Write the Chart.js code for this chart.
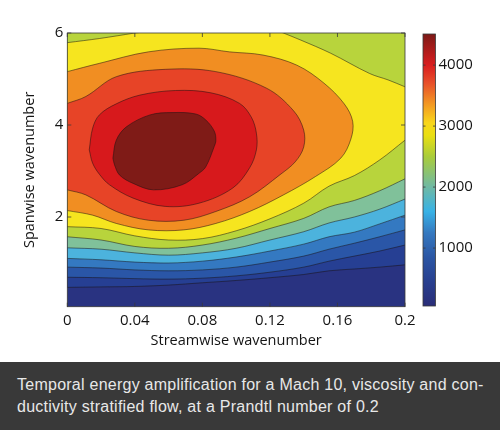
<!DOCTYPE html>
<html>
<head>
<meta charset="utf-8">
<script src="https://cdn.jsdelivr.net/npm/chart.js@4.4.1/dist/chart.umd.min.js"></script>
<style>
  html, body { margin: 0; padding: 0; background: #fff; }
  #wrap { position: relative; width: 500px; height: 430px; overflow: hidden; background: #fff; }
  #plot, #cbar { position: absolute; left: 0; top: 0; }
  #caption {
    position: absolute; left: 0; top: 362px; width: 500px; height: 68px;
    box-sizing: border-box; padding: 12px 0 0 17px;
    background: #393939; color: #e8e8e8;
    font-family: "Liberation Sans", Arial, sans-serif; font-size: 16px; line-height: 22px;
    letter-spacing: 0.25px; white-space: nowrap;
  }
</style>
</head>
<body>
<div id="wrap">
  <canvas id="plot" width="500" height="362"></canvas>
  <canvas id="cbar" width="500" height="362"></canvas>
  <div id="caption">Temporal energy amplification for a Mach 10, viscosity and con-<br>ductivity stratified flow, at a Prandtl number of 0.2</div>
</div>
<script>
// axes
const kxTicks = [0, 0.04, 0.08, 0.12, 0.16, 0.2];
const kzTicks = [2, 4, 6];
const kxRange = [0, 0.2];
const kzRange = [0.05, 6];

// contour levels and the fill colour of each band (band 0 is below the first level)
const levels = [400, 800, 1200, 1600, 2000, 2400, 2800, 3200, 3600, 4000, 4400];
const bandColors = ['#293381', '#263f93', '#2a56a7', '#3479c1', '#4cb3dd', '#80c19a',
                    '#b8d43c', '#f6e51f', '#f18e22', '#e74427', '#d7191c', '#7f1b17'];

// lower contours, read along the streamwise wavenumber
const kxLow  = [0, 0.02, 0.04, 0.06, 0.08, 0.1, 0.12, 0.14, 0.155, 0.17, 0.185, 0.2];
const kz400  = [0.47, 0.48, 0.49, 0.52, 0.57, 0.62, 0.68, 0.75, 0.83, 0.87, 0.91, 0.96];
const kz800  = [0.69, 0.68, 0.66, 0.65, 0.67, 0.72, 0.80, 0.91, 1.04, 1.15, 1.26, 1.39];
const kz1200 = [0.91, 0.89, 0.85, 0.83, 0.85, 0.91, 1.02, 1.15, 1.30, 1.43, 1.57, 1.72];
const kz1600 = [1.10, 1.07, 1.02, 1.00, 1.04, 1.13, 1.26, 1.41, 1.57, 1.67, 1.85, 2.04];
const kz2000 = [1.33, 1.30, 1.22, 1.17, 1.22, 1.32, 1.50, 1.68, 1.87, 2.00, 2.17, 2.39];
const kz2400 = [1.57, 1.50, 1.36, 1.32, 1.39, 1.54, 1.75, 1.97, 2.22, 2.36, 2.57, 2.83];
const kz2800 = [1.79, 1.75, 1.59, 1.50, 1.53, 1.70, 1.96, 2.30, 2.67, 2.90, 3.24, 3.67];

// 2800 contour, upper right piece (right edge to top edge) and top left corner
const kx2800r = [0.2, 0.19, 0.179, 0.156, 0.138, 0.128];
const kz2800r = [4.83, 4.98, 5.12, 5.56, 5.85, 6.0];
const kx2800l = [0.04, 0.019, 0];
const kz2800l = [6.0, 5.88, 5.79];

// 3200 and 3600 contours, from the left edge (low side) round to the left edge (high side)
const kx3200 = [0, 0.015, 0.029, 0.048, 0.069, 0.088, 0.108, 0.128, 0.147, 0.162, 0.168, 0.169,
                0.164, 0.152, 0.136, 0.116, 0.096, 0.078, 0.048, 0.019, 0];
const kz3200 = [2.14, 2.04, 1.86, 1.72, 1.72, 1.86, 2.12, 2.48, 2.88, 3.28, 3.70, 4.08,
                4.46, 4.91, 5.30, 5.52, 5.59, 5.67, 5.59, 5.34, 5.16];
const kx3600 = [0, 0.011, 0.029, 0.048, 0.069, 0.088, 0.108, 0.126, 0.135, 0.140, 0.140, 0.134,
                0.118, 0.088, 0.058, 0.029, 0.011, 0];
const kz3600 = [2.59, 2.48, 2.12, 1.93, 1.93, 2.12, 2.44, 2.92, 3.20, 3.52, 3.89, 4.31,
                4.80, 5.16, 5.21, 5.05, 4.62, 4.47];

// closed contours round the peak
const kx4000 = [0.013, 0.015, 0.019, 0.029, 0.043, 0.064, 0.085, 0.102, 0.109, 0.112, 0.112, 0.108,
                0.098, 0.078, 0.058, 0.039, 0.025, 0.019, 0.015, 0.013];
const kz4000 = [3.46, 3.93, 4.22, 4.46, 4.65, 4.75, 4.70, 4.47, 4.17, 3.82, 3.46, 3.07,
                2.63, 2.30, 2.23, 2.41, 2.70, 2.93, 3.17, 3.46];
const kx4400 = [0.027, 0.029, 0.035, 0.049, 0.062, 0.076, 0.082, 0.087, 0.088, 0.087, 0.082, 0.078,
                0.068, 0.051, 0.039, 0.031, 0.028, 0.027];
const kz4400 = [3.28, 3.67, 3.96, 4.22, 4.27, 4.24, 4.11, 3.87, 3.67, 3.53, 3.09, 2.95,
                2.70, 2.59, 2.73, 2.91, 3.13, 3.28];

// colour bar
const cbarRange = [50, 4510];
const cbarTicks = [1000, 2000, 3000, 4000];
const cbarStops = [50, 450, 850, 1250, 1600, 2000, 2500, 2850, 3050, 3350, 3700, 4000, 4510];
const cbarColors = ['#2a2d78', '#283f8f', '#2b56a4', '#3579c0', '#38b2e6', '#6fb9a4', '#a9cc3a',
                    '#eadf12', '#f8d61a', '#f39a22', '#e8502a', '#d91d1f', '#7c1a17'];

const textColor = '#141414';
const tickFont = { family: "'Open Sans', sans-serif", size: 15 };
const titleFont = { family: "'Open Sans', sans-serif", size: 14.5 };
const lineColor = 'rgba(25, 18, 18, 0.85)';

// off-plot positions used only to close the filled shapes (clipped away)
const OUT_L = kxRange[0] - 0.04;
const OUT_R = kxRange[1] + 0.04;
const OUT_T = kzRange[1] + 0.8;

function toPoints(xs, ys) {
    return xs.map((x, i) => ({ x: x, y: ys[i] }));
}

// push both ends of a contour piece a little past the plot edge
function extended(xs, ys) {
    const p = toPoints(xs, ys);
    const n = p.length;
    const head = { x: p[0].x + (p[0].x - p[1].x) * 0.5, y: p[0].y + (p[0].y - p[1].y) * 0.5 };
    const tail = { x: p[n - 1].x + (p[n - 1].x - p[n - 2].x) * 0.5, y: p[n - 1].y + (p[n - 1].y - p[n - 2].y) * 0.5 };
    return [head].concat(p, [tail]);
}

function regionAbove(xs, ys) {
    return extended(xs, ys).concat([{ x: OUT_R, y: OUT_T }, { x: OUT_L, y: OUT_T }]);
}

function regionFromLeft(xs, ys) {
    const mid = (ys[0] + ys[ys.length - 1]) / 2;
    return extended(xs, ys).concat([{ x: OUT_L, y: mid }]);
}

const last = a => a[a.length - 1];

const region2800 = [].concat(
    extended(kxLow, kz2800),
    [{ x: OUT_R, y: (last(kz2800) + kz2800r[0]) / 2 }],
    extended(kx2800r, kz2800r),
    [{ x: (last(kx2800r) + kx2800l[0]) / 2, y: OUT_T }],
    extended(kx2800l, kz2800l),
    [{ x: OUT_L, y: (last(kz2800l) + kz2800[0]) / 2 }]
);

const regions = [
    regionAbove(kxLow, kz400),
    regionAbove(kxLow, kz800),
    regionAbove(kxLow, kz1200),
    regionAbove(kxLow, kz1600),
    regionAbove(kxLow, kz2000),
    regionAbove(kxLow, kz2400),
    region2800,
    regionFromLeft(kx3200, kz3200),
    regionFromLeft(kx3600, kz3600),
    toPoints(kx4000, kz4000),
    toPoints(kx4400, kz4400)
];

const datasets = regions.map((pts, i) => ({
    label: String(levels[i]),
    data: pts,
    fill: 'shape',
    backgroundColor: bandColors[i + 1],
    borderColor: lineColor,
    borderWidth: 0.6,
    pointRadius: 0,
    tension: 0.35,
    capBezierPoints: false,
    order: levels.length - i
}));

/**
 * Band below the lowest contour fills the whole plot area
 */
const plotBackground = {
    id: 'plotBackground',
    beforeDatasetsDraw(chart) {
        const { ctx, chartArea: a } = chart;
        ctx.save();
        ctx.fillStyle = bandColors[0];
        ctx.fillRect(a.left, a.top, a.right - a.left, a.bottom - a.top);
        ctx.restore();
    }
};

/**
 * Box round the plot with short inward ticks
 */
const plotFrame = {
    id: 'plotFrame',
    afterDatasetsDraw(chart) {
        const { ctx, chartArea: a, scales } = chart;
        ctx.save();
        ctx.strokeStyle = '#3a3a3a';
        ctx.lineWidth = 0.8;
        ctx.strokeRect(a.left, a.top, a.right - a.left, a.bottom - a.top);
        ctx.beginPath();
        kxTicks.forEach(v => {
            const x = scales.x.getPixelForValue(v);
            ctx.moveTo(x, a.bottom); ctx.lineTo(x, a.bottom - 4);
            ctx.moveTo(x, a.top); ctx.lineTo(x, a.top + 4);
        });
        kzTicks.forEach(v => {
            const y = scales.y.getPixelForValue(v);
            ctx.moveTo(a.left, y); ctx.lineTo(a.left + 4, y);
            ctx.moveTo(a.right, y); ctx.lineTo(a.right - 4, y);
        });
        ctx.stroke();
        ctx.restore();
    }
};

new Chart(document.getElementById('plot'), {
    type: 'line',
    data: { datasets: datasets },
    options: {
        responsive: false,
        animation: false,
        events: [],
        layout: { padding: { left: 0, right: 95, top: 33, bottom: 0 } },
        plugins: { legend: { display: false }, tooltip: { enabled: false } },
        scales: {
            x: {
                type: 'linear',
                min: kxRange[0],
                max: kxRange[1],
                grid: { display: false, drawTicks: false },
                border: { display: false },
                afterBuildTicks: s => { s.ticks = kxTicks.map(v => ({ value: v })); },
                afterFit: s => { s.height = 55.3; },
                ticks: {
                    padding: 5,
                    color: textColor,
                    font: tickFont,
                    maxRotation: 0,
                    callback: v => String(Number(v.toFixed(2)))
                },
                title: {
                    display: true,
                    text: 'Streamwise wavenumber',
                    color: textColor,
                    font: titleFont,
                    padding: { top: 0, bottom: 12 }
                }
            },
            y: {
                type: 'linear',
                min: kzRange[0],
                max: kzRange[1],
                grid: { display: false, drawTicks: false },
                border: { display: false },
                afterBuildTicks: s => { s.ticks = kzTicks.map(v => ({ value: v })); },
                afterFit: s => { s.width = 67.3; },
                ticks: { padding: 4, color: textColor, font: tickFont },
                title: {
                    display: true,
                    text: 'Spanwise wavenumber',
                    color: textColor,
                    font: titleFont,
                    padding: { top: 21, bottom: 0 }
                }
            }
        }
    },
    plugins: [plotBackground, plotFrame]
});

/**
 * Colour bar: one floating bar over the full range with a gradient fill
 */
function cbarGradient(context) {
    const chart = context.chart;
    const area = chart.chartArea;
    if (!area) return cbarColors[0];
    const yScale = chart.scales.y;
    const y0 = yScale.getPixelForValue(cbarRange[0]);
    const y1 = yScale.getPixelForValue(cbarRange[1]);
    const g = chart.ctx.createLinearGradient(0, y0, 0, y1);
    const span = cbarRange[1] - cbarRange[0];
    cbarStops.forEach((v, i) => g.addColorStop((v - cbarRange[0]) / span, cbarColors[i]));
    return g;
}

const cbarFrame = {
    id: 'cbarFrame',
    afterDatasetsDraw(chart) {
        const { ctx, chartArea: a, scales } = chart;
        ctx.save();
        ctx.strokeStyle = '#3a3a3a';
        ctx.lineWidth = 0.8;
        ctx.strokeRect(a.left, a.top, a.right - a.left, a.bottom - a.top);
        ctx.beginPath();
        cbarTicks.forEach(v => {
            const y = scales.y.getPixelForValue(v);
            ctx.moveTo(a.left, y); ctx.lineTo(a.left + 2.5, y);
            ctx.moveTo(a.right, y); ctx.lineTo(a.right - 2.5, y);
        });
        ctx.stroke();
        ctx.restore();
    }
};

new Chart(document.getElementById('cbar'), {
    type: 'bar',
    data: {
        labels: [''],
        datasets: [{
            data: [cbarRange],
            backgroundColor: cbarGradient,
            borderWidth: 0,
            barPercentage: 1,
            categoryPercentage: 1
        }]
    },
    options: {
        responsive: false,
        animation: false,
        events: [],
        layout: { padding: { left: 423, right: 4.5, top: 34, bottom: 56 } },
        plugins: { legend: { display: false }, tooltip: { enabled: false } },
        scales: {
            x: { display: false },
            y: {
                position: 'right',
                min: cbarRange[0],
                max: cbarRange[1],
                grid: { display: false, drawTicks: false },
                border: { display: false },
                afterBuildTicks: s => { s.ticks = cbarTicks.map(v => ({ value: v })); },
                afterFit: s => { s.width = 60; },
                ticks: { padding: 3, color: textColor, font: tickFont, callback: v => String(v) }
            }
        }
    },
    plugins: [cbarFrame]
});
</script>
</body>
</html>
